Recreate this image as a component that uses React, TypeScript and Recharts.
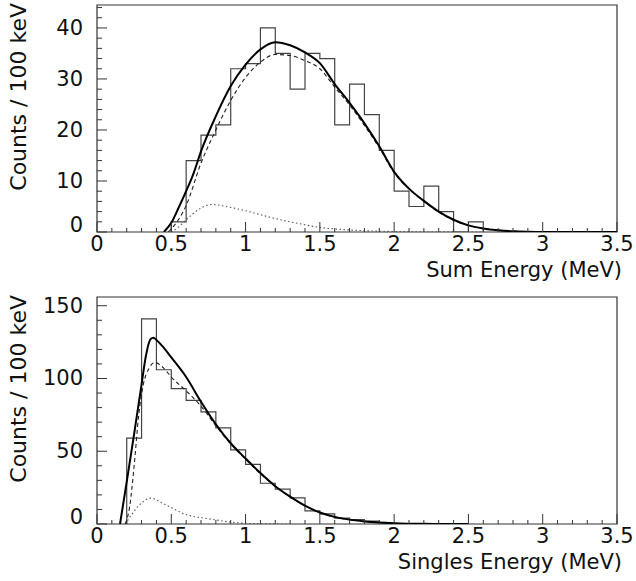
import React from 'react';
import { ComposedChart, Line, XAxis, YAxis, ReferenceArea, Label } from 'recharts';

// ---------- shared ----------
const binWidth = 0.1;
const xMajorLabels = [0, 0.5, 1, 1.5, 2, 2.5, 3, 3.5];
const xMinorStep = 0.1;
const xMax = 3.5;
const yTitle = 'Counts / 100 keV';

// ---------- top panel: Sum Energy ----------
const sumTitle = 'Sum Energy (MeV)';
const sumBinStart = 0.5;
const sumCounts = [2, 14, 19, 21, 32, 33, 40, 35, 28, 35, 34, 21, 29, 23, 16, 8, 5, 9, 4, 0, 2];
const sumYMax = 44.5;
const sumYMajor = [0, 10, 20, 30, 40];
const sumYMinorStep = 2;

const sumTotalE = [0.45, 0.5, 0.55, 0.6, 0.65, 0.7, 0.8, 0.9, 1.0, 1.1, 1.2, 1.3, 1.4, 1.5, 1.6, 1.7, 1.8, 1.9, 2.0, 2.1, 2.2, 2.3, 2.4, 2.5, 2.6, 2.7, 2.8, 2.9, 3.0, 3.5];
const sumTotalY = [0, 1.8, 4.8, 8.0, 11.5, 15.8, 22.7, 28.6, 32.8, 35.8, 37.2, 36.6, 35.2, 33.1, 29.0, 25.3, 21.3, 16.8, 11.8, 8.5, 6.1, 4.0, 2.4, 1.3, 0.7, 0.35, 0.15, 0.06, 0.02, 0];

const sumMainE = [0.48, 0.55, 0.6, 0.7, 0.8, 0.9, 1.0, 1.1, 1.2, 1.3, 1.4, 1.5, 1.6, 1.7, 1.8, 1.9, 2.0, 2.1, 2.2, 2.3, 2.4, 2.5, 2.6, 2.7, 2.8, 3.0, 3.5];
const sumMainY = [0, 2.5, 5.2, 13.5, 20.0, 25.8, 30.3, 33.3, 34.8, 34.6, 33.6, 32.0, 28.4, 24.9, 20.9, 16.5, 11.6, 8.4, 6.0, 3.9, 2.3, 1.3, 0.7, 0.35, 0.15, 0.02, 0];

const sumBkgE = [0.5, 0.55, 0.6, 0.7, 0.77, 0.85, 0.95, 1.05, 1.15, 1.25, 1.35, 1.5, 1.6, 1.7, 1.8, 2.0, 2.3, 2.6];
const sumBkgY = [0, 1.0, 2.4, 4.7, 5.4, 5.1, 4.5, 3.8, 3.0, 2.3, 1.7, 0.9, 0.6, 0.4, 0.25, 0.1, 0.03, 0];

// ---------- bottom panel: Singles Energy ----------
const sglTitle = 'Singles Energy (MeV)';
const sglBinStart = 0.2;
const sglCounts = [59, 141, 106, 93, 85, 77, 66, 51, 41, 28, 24, 18, 9, 7, 4, 3, 2];
const sglYMax = 156;
const sglYMajor = [0, 50, 100, 150];
const sglYMinorStep = 10;

const sglTotalE = [0.155, 0.2, 0.25, 0.3, 0.33, 0.36, 0.38, 0.4, 0.45, 0.5, 0.6, 0.7, 0.8, 0.9, 1.0, 1.1, 1.2, 1.3, 1.4, 1.5, 1.6, 1.7, 1.8, 1.9, 2.0, 2.2, 2.5];
const sglTotalY = [0, 29, 62, 96, 116, 127, 128, 126.5, 121, 114.5, 101, 84, 68.5, 55.5, 45, 35, 26, 18.8, 12.6, 7.9, 4.9, 3.0, 1.8, 1.0, 0.5, 0.1, 0];

const sglMainE = [0.19, 0.22, 0.25, 0.28, 0.31, 0.35, 0.39, 0.45, 0.5, 0.6, 0.7, 0.8, 0.9, 1.0, 1.1, 1.2, 1.3, 1.4, 1.5, 1.6, 1.7, 1.8, 1.9, 2.0, 2.2, 2.5];
const sglMainY = [0, 12, 40, 74, 95, 107, 111, 107, 101, 91.5, 81, 67.5, 55, 44.5, 34.5, 25.8, 18.6, 12.5, 7.8, 4.8, 3.0, 1.8, 1.0, 0.5, 0.1, 0];

const sglBkgE = [0.19, 0.23, 0.3, 0.36, 0.44, 0.5, 0.575, 0.65, 0.73, 0.8, 0.9, 1.0, 1.1, 1.3];
const sglBkgY = [0, 6, 14.5, 17.8, 14.3, 11.3, 7.4, 5.2, 3.9, 2.8, 1.3, 0.5, 0.2, 0];

// ---------- helpers ----------
const r1 = (v: number) => Math.round(v * 1000) / 1000;
const zip = (xs: number[], ys: number[]) => xs.map((x, i) => ({ x, y: ys[i] }));
const histPoints = (start: number, counts: number[]) => {
  const pts = [{ x: start, y: 0 }];
  counts.forEach((c, i) => pts.push({ x: r1(start + i * binWidth), y: c }));
  pts.push({ x: r1(start + counts.length * binWidth), y: 0 });
  return pts;
};
const stepTicks = (max: number, step: number) => {
  const out: number[] = [];
  for (let i = 0; i * step <= max + 1e-9; i++) out.push(r1(i * step));
  return out;
};
const isIn = (v: number, list: number[]) => list.some((m) => Math.abs(m - v) < 1e-6);

const FONT = 'DejaVu Sans';
const FS = 21;
const FRAME = '#333';

const makeXTick = () => (props: any) => {
  const { x, y, payload } = props;
  const v = payload.value;
  const major = isIn(v, xMajorLabels);
  return (
    <g>
      <line x1={x} x2={x} y1={y} y2={y - (major ? 10 : 4)} stroke={FRAME} strokeWidth={1} />
      {major && (
        <text x={x} y={y + 19} textAnchor="middle" fontSize={FS} fontFamily={FONT} fill="#111">
          {String(v)}
        </text>
      )}
    </g>
  );
};

const makeYTick = (majors: number[]) => (props: any) => {
  const { x, y, payload } = props;
  const v = payload.value;
  const major = isIn(v, majors);
  return (
    <g>
      <line x1={x} x2={x + (major ? 10 : 5)} y1={y} y2={y} stroke={FRAME} strokeWidth={1} />
      {major && (
        <text x={x - 14} y={y + (v === 0 ? 0 : 7)} textAnchor="end" fontSize={FS} fontFamily={FONT} fill="#111">
          {String(v)}
        </text>
      )}
    </g>
  );
};

type PanelProps = {
  height: number;
  top: number;
  xTitle: string;
  binStart: number;
  counts: number[];
  totalE: number[];
  totalY: number[];
  mainE: number[];
  mainY: number[];
  bkgE: number[];
  bkgY: number[];
  yMax: number;
  yMajor: number[];
  yMinorStep: number;
};

function Panel(p: PanelProps) {
  const xAxisH = 50;
  const marginBottom = p.height - p.top - 227 - xAxisH;
  const hist = histPoints(p.binStart, p.counts);
  const total = zip(p.totalE, p.totalY);
  const main = zip(p.mainE, p.mainY);
  const bkg = zip(p.bkgE, p.bkgY);
  return (
    <ComposedChart
      width={636}
      height={p.height}
      margin={{ top: p.top, right: 19, bottom: marginBottom, left: 0 }}
    >
      <XAxis
        dataKey="x"
        type="number"
        domain={[0, xMax]}
        allowDataOverflow
        ticks={stepTicks(xMax, xMinorStep)}
        interval={0}
        tickSize={0}
        tickMargin={0}
        axisLine={false}
        tickLine={false}
        height={xAxisH}
        tick={makeXTick()}
      >
        <Label
          content={(lp: any) => {
            const vb = lp.viewBox || {};
            return (
              <text
                x={vb.x + vb.width + 5}
                y={vb.y + 45}
                textAnchor="end"
                fontSize={FS}
                fontFamily={FONT}
                fill="#111"
              >
                {p.xTitle}
              </text>
            );
          }}
        />
      </XAxis>
      <YAxis
        dataKey="y"
        type="number"
        domain={[0, p.yMax]}
        allowDataOverflow
        ticks={stepTicks(p.yMax, p.yMinorStep)}
        interval={0}
        tickSize={0}
        tickMargin={0}
        axisLine={false}
        tickLine={false}
        width={97}
        tick={makeYTick(p.yMajor)}
      >
        <Label
          content={(lp: any) => {
            const vb = lp.viewBox || {};
            const tx = 26;
            const ty = vb.y - 2;
            return (
              <text
                x={tx}
                y={ty}
                transform={`rotate(-90, ${tx}, ${ty})`}
                textAnchor="end"
                fontSize={22}
                fontFamily={FONT}
                fill="#111"
              >
                {yTitle}
              </text>
            );
          }}
        />
      </YAxis>
      <ReferenceArea x1={0} x2={xMax} y1={0} y2={p.yMax} fill="none" stroke={FRAME} strokeWidth={1.2} ifOverflow="visible" />
      <Line data={hist} dataKey="y" type="stepAfter" stroke="#444" strokeWidth={1.2} dot={false} isAnimationActive={false} />
      <Line data={bkg} dataKey="y" type="monotone" stroke="#555" strokeWidth={1.1} strokeDasharray="1.5 2.5" dot={false} isAnimationActive={false} />
      <Line data={main} dataKey="y" type="monotone" stroke="#222" strokeWidth={1.1} strokeDasharray="4 3" dot={false} isAnimationActive={false} />
      <Line data={total} dataKey="y" type="monotone" stroke="#000" strokeWidth={2} dot={false} isAnimationActive={false} />
    </ComposedChart>
  );
}

export default function App() {
  return (
    <div style={{ position: 'absolute', left: 0, top: 0, width: 636, height: 581, background: '#fff' }}>
      <Panel
        height={290}
        top={5}
        xTitle={sumTitle}
        binStart={sumBinStart}
        counts={sumCounts}
        totalE={sumTotalE}
        totalY={sumTotalY}
        mainE={sumMainE}
        mainY={sumMainY}
        bkgE={sumBkgE}
        bkgY={sumBkgY}
        yMax={sumYMax}
        yMajor={sumYMajor}
        yMinorStep={sumYMinorStep}
      />
      <Panel
        height={291}
        top={7}
        xTitle={sglTitle}
        binStart={sglBinStart}
        counts={sglCounts}
        totalE={sglTotalE}
        totalY={sglTotalY}
        mainE={sglMainE}
        mainY={sglMainY}
        bkgE={sglBkgE}
        bkgY={sglBkgY}
        yMax={sglYMax}
        yMajor={sglYMajor}
        yMinorStep={sglYMinorStep}
      />
    </div>
  );
}
